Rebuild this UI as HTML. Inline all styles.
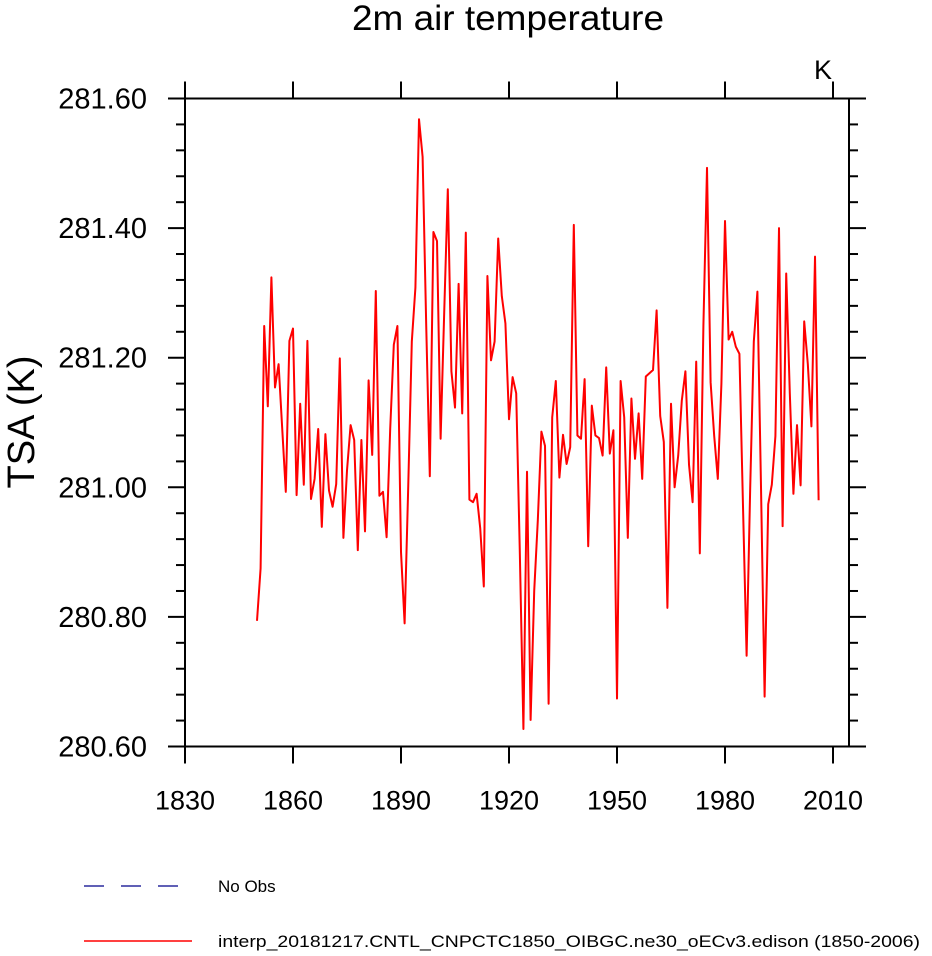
<!DOCTYPE html>
<html><head><meta charset="utf-8"><style>
body{margin:0;background:#fff;}
svg text{font-family:"Liberation Sans",sans-serif;fill:#000;}
</style></head><body>
<svg id="chart" width="932" height="951" xmlns="http://www.w3.org/2000/svg">
<text x="508" y="30" font-size="35" text-anchor="middle" textLength="312" lengthAdjust="spacingAndGlyphs">2m air temperature</text>
<text x="823" y="79" font-size="27" text-anchor="middle">K</text>
<text transform="translate(34,422) rotate(-90)" font-size="38" text-anchor="middle">TSA  (K)</text>
<g id="axes"></g>
<polyline id="series" fill="none" stroke="#ff0000" stroke-width="2" stroke-linejoin="round"/>
<rect x="185" y="98.5" width="664" height="648" fill="none" stroke="#000" stroke-width="2"/>
<line x1="84" y1="886" x2="192" y2="886" stroke="#00008b" stroke-width="1.2" stroke-dasharray="20,17"/>
<text x="218" y="892" font-size="17">No Obs</text>
<line x1="84" y1="941" x2="192" y2="941" stroke="#ff0000" stroke-width="1.5"/>
<text x="218" y="947" font-size="17" textLength="702" lengthAdjust="spacingAndGlyphs">interp_20181217.CNTL_CNPCTC1850_OIBGC.ne30_oECv3.edison (1850-2006)</text>
</svg>
<script>
const startYear = 1850;
const values = [280.794,280.875,281.249,281.125,281.324,281.154,281.190,281.091,280.993,281.226,
281.245,280.988,281.129,281.004,281.226,280.982,281.013,281.090,280.939,281.082,
280.995,280.970,281.005,281.199,280.922,281.026,281.096,281.073,280.903,281.073,
280.932,281.165,281.050,281.303,280.987,280.993,280.923,281.09,281.22,281.249,
280.90,280.79,281.00,281.225,281.308,281.568,281.51,281.25,281.017,281.394,
281.38,281.075,281.27,281.46,281.179,281.123,281.314,281.114,281.393,280.981,
280.977,280.99,280.937,280.847,281.326,281.196,281.225,281.384,281.295,281.253,
281.105,281.17,281.145,280.90,280.627,281.024,280.641,280.84,280.949,281.086,
281.064,280.666,281.108,281.164,281.015,281.081,281.036,281.062,281.405,281.08,
281.075,281.167,280.909,281.126,281.08,281.076,281.049,281.185,281.052,281.088,
280.674,281.164,281.108,280.922,281.137,281.044,281.114,281.013,281.171,281.176,
281.181,281.273,281.11,281.07,280.814,281.129,281.0,281.049,281.134,281.179,
281.035,280.977,281.194,280.898,281.25,281.493,281.162,281.079,281.013,281.16,
281.411,281.228,281.24,281.217,281.206,280.97,280.74,281.0,281.225,281.302,
281.0,280.677,280.974,281.004,281.079,281.40,280.94,281.33,281.145,280.99,
281.096,281.003,281.256,281.19,281.094,281.356,280.98];
const xTicks = [1830,1860,1890,1920,1950,1980,2010];
const yTicks = [280.60,280.80,281.00,281.20,281.40,281.60];
const yMin = 280.60, yMax = 281.60;
const xMin = 1830, xMax = 2014.44;
const L=185,R=849,T=98.5,B=746.5;
function xs(v){return L+(v-xMin)/(xMax-xMin)*(R-L);}
function ys(v){return B-(v-yMin)/(yMax-yMin)*(B-T);}
const NS="http://www.w3.org/2000/svg";
const axes=document.getElementById('axes');
function ln(x1,y1,x2,y2,name){const e=document.createElementNS(NS,'line');
e.setAttribute('x1',x1);e.setAttribute('y1',y1);e.setAttribute('x2',x2);e.setAttribute('y2',y2);
e.setAttribute('stroke','#000');e.setAttribute('stroke-width','2');


axes.appendChild(e);}
function tx(x,y,s,anchor,size,name){const e=document.createElementNS(NS,'text');
e.setAttribute('x',x);e.setAttribute('y',y);e.setAttribute('font-size',size);e.setAttribute('text-anchor',anchor);e.textContent=s;


axes.appendChild(e);}
xTicks.forEach(t=>{const x=xs(t);ln(x,B,x,B+17,'x-tick');ln(x,T,x,T-17,'x-tick-top');tx(x,B+63,String(t),'middle','27','x-tick-label');});
yTicks.forEach(t=>{const y=ys(t);ln(L-17,y,L,y,'y-tick');ln(R,y,R+17,y,'y-tick-right');tx(L-38,y+10,t.toFixed(2),'end','29','y-tick-label');});
for(let v=yMin;v<yMax-0.001;v+=0.04){const m=Math.round((v-yMin)/0.04);if(m%5===0)continue;const y=ys(v);ln(L-9,y,L,y,'y-minor-tick');ln(R,y,R+9,y,'y-minor-tick-right');}
const pts=values.map((v,i)=>xs(startYear+i).toFixed(2)+','+ys(v).toFixed(2)).join(' ');
document.getElementById('series').setAttribute('points',pts);
</script>
</body></html>
